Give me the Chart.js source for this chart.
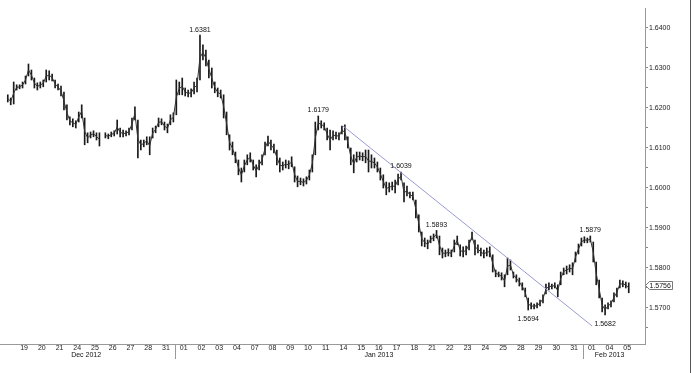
<!DOCTYPE html>
<html>
<head>
<meta charset="utf-8">
<script src="https://cdn.jsdelivr.net/npm/chart.js@4"></script>
<style>
    body { margin: 0; background: #fff; }
    canvas { display: block; }
</style>
</head>
<body>
<canvas id="myChart" width="700" height="373"></canvas>
<script>
    // trading days shown on the x axis (day index = position in this list)
    var dayLabels = ['18', '19', '20', '21', '24', '25', '26', '27', '28', '31',
                     '01', '02', '03', '04', '07', '08', '09', '10', '11', '14', '15', '16', '17', '18', '21', '22', '23', '24', '25', '28', '29', '30', '31',
                     '01', '04', '05'];
    var monthLabels = ['Dec 2012', 'Jan 2013', 'Feb 2013'];
    var monthFirstDay = [0, 10, 33];

    // 4 hour bars, 6 per day, first bar is the 4th slot of 18 Dec
    var barsPerDay = 6;
    var firstSlot = 3;

    var highs = [
        1.6232, 1.6224, 1.6264,
        1.6257, 1.6257, 1.6264, 1.6279, 1.6309, 1.6294,
        1.6274, 1.6262, 1.6264, 1.6269, 1.6294, 1.6292,
        1.6284, 1.6269, 1.6259, 1.6254, 1.6239, 1.6207,
        1.6177, 1.6172, 1.6167, 1.6189, 1.6207, 1.6174,
        1.6137, 1.6139, 1.6142, 1.6137, 1.6137, null,
        1.6137, 1.6134, 1.6139, 1.6142, 1.6169, 1.6149,
        1.6144, 1.6142, 1.6149, 1.6174, 1.6202, 1.6169,
        1.6119, 1.6119, 1.6127, 1.6127, 1.6149, 1.6154,
        1.6174, 1.6172, 1.6164, 1.6159, 1.6182, 1.6187,
        1.6269, 1.6264, 1.6274, 1.6249, 1.6244, 1.6247,
        1.6264, 1.6274, 1.6381, 1.6357, 1.6344, 1.6319,
        1.6299, 1.6264, 1.6249, 1.6244, 1.6232, 1.6189,
        1.6132, 1.6114, 1.6089, 1.6069, 1.6049, 1.6069,
        1.6082, 1.6087, 1.6069, 1.6057, 1.6069, 1.6082,
        1.6114, 1.6129, 1.6119, 1.6109, 1.6094, 1.6074,
        1.6064, 1.6069, 1.6067, 1.6077, 1.6052, 1.6029,
        1.6024, 1.6022, 1.6027, 1.6044, 1.6082, 1.6164,
        1.6179, 1.6167, 1.6162, 1.6149, 1.6144, 1.6142,
        1.6139, 1.6137, 1.6154, 1.6157, 1.6127, 1.6099,
        1.6082, 1.6089, 1.6089, 1.6087, 1.6094, 1.6094,
        1.6082, 1.6074, 1.6064, 1.6049, 1.6032, 1.6014,
        1.6012, 1.6014, 1.6019, 1.6034, 1.6039, 1.6012,
        1.6004, 1.5989, 1.5989, 1.5969, 1.5932, 1.5889,
        1.5874, 1.5869, 1.5879, 1.5884, 1.5893, 1.5879,
        1.5849, 1.5844, 1.5847, 1.5844, 1.5869, 1.5879,
        1.5857, 1.5852, 1.5854, 1.5869, 1.5889, 1.5869,
        1.5857, 1.5849, 1.5844, 1.5849, 1.5852, 1.5832,
        1.5794, 1.5789, 1.5787, 1.5782, 1.5824, 1.5819,
        1.5789, 1.5782, 1.5774, 1.5762, 1.5749, 1.5724,
        1.5712, 1.5709, 1.5712, 1.5719, 1.5732, 1.5759,
        1.5762, 1.5759, 1.5762, 1.5757, 1.5789, 1.5799,
        1.5804, 1.5807, 1.5812, 1.5839, 1.5859, 1.5874,
        1.5877, 1.5874, 1.5879, 1.5864, 1.5814, 1.5769,
        1.5724, 1.5707, 1.5712, 1.5717, 1.5737, 1.5749,
        1.5769, 1.5767, 1.5764, 1.5762
    ];
    var lows = [
        1.6214, 1.6207, 1.6209,
        1.6244, 1.6247, 1.6249, 1.6259, 1.6279, 1.6269,
        1.6249, 1.6244, 1.6249, 1.6252, 1.6264, 1.6269,
        1.6267, 1.6249, 1.6244, 1.6229, 1.6194, 1.6169,
        1.6157, 1.6152, 1.6149, 1.6164, 1.6174, 1.6107,
        1.6112, 1.6124, 1.6127, 1.6119, 1.6104, null,
        1.6124, 1.6122, 1.6127, 1.6129, 1.6134, 1.6127,
        1.6127, 1.6129, 1.6132, 1.6144, 1.6169, 1.6074,
        1.6094, 1.6102, 1.6107, 1.6082, 1.6124, 1.6137,
        1.6152, 1.6157, 1.6144, 1.6137, 1.6157, 1.6164,
        1.6182, 1.6232, 1.6232, 1.6229, 1.6227, 1.6227,
        1.6234, 1.6239, 1.6269, 1.6319, 1.6304, 1.6274,
        1.6249, 1.6237, 1.6227, 1.6224, 1.6174, 1.6132,
        1.6094, 1.6082, 1.6062, 1.6032, 1.6014, 1.6039,
        1.6057, 1.6064, 1.6044, 1.6027, 1.6044, 1.6057,
        1.6082, 1.6104, 1.6094, 1.6087, 1.6057, 1.6039,
        1.6044, 1.6049, 1.6047, 1.6052, 1.6014, 1.6002,
        1.6007, 1.6004, 1.6009, 1.6019, 1.6039, 1.6082,
        1.6144, 1.6149, 1.6144, 1.6119, 1.6094, 1.6119,
        1.6122, 1.6119, 1.6134, 1.6119, 1.6099, 1.6057,
        1.6037, 1.6064, 1.6069, 1.6067, 1.6062, 1.6039,
        1.6049, 1.6049, 1.6039, 1.6019, 1.5999, 1.5982,
        1.5989, 1.5994, 1.5987, 1.6007, 1.6019, 1.5964,
        1.5979, 1.5974, 1.5969, 1.5924, 1.5889, 1.5854,
        1.5852, 1.5847, 1.5862, 1.5867, 1.5874, 1.5832,
        1.5824, 1.5827, 1.5829, 1.5827, 1.5839, 1.5857,
        1.5829, 1.5827, 1.5832, 1.5844, 1.5869, 1.5832,
        1.5837, 1.5829, 1.5824, 1.5829, 1.5827, 1.5789,
        1.5777, 1.5777, 1.5769, 1.5752, 1.5782, 1.5794,
        1.5774, 1.5764, 1.5754, 1.5744, 1.5727, 1.5694,
        1.5697, 1.5697, 1.5699, 1.5704, 1.5712, 1.5734,
        1.5744, 1.5747, 1.5749, 1.5727, 1.5757, 1.5782,
        1.5784, 1.5789, 1.5782, 1.5814, 1.5834, 1.5854,
        1.5862, 1.5862, 1.5864, 1.5814, 1.5757, 1.5724,
        1.5689, 1.5682, 1.5697, 1.5702, 1.5714, 1.5727,
        1.5749, 1.5752, 1.5749, 1.5737
    ];
    var lastPrice = 1.5756;

    var priceTicks = [1.5700, 1.5800, 1.5900, 1.6000, 1.6100, 1.6200, 1.6300, 1.6400];
    var priceMin = 1.5609;
    var priceMax = 1.6449;

    // resistance line drawn on the chart
    var trendTimes = [18.98, 33.02];
    var trendValues = [1.6154, 1.5654];

    // swing highs / lows written on the chart
    var calloutTimes = [10.917, 17.583, 22.25, 24.25, 32.917, 29.417, 33.75];
    var calloutValues = [1.6381, 1.6179, 1.6039, 1.5893, 1.5879, 1.5694, 1.5682];
    var calloutBelow = [false, false, false, false, false, true, true];

    var FONT = "'Liberation Sans', Arial, sans-serif";
    Chart.defaults.font.family = FONT;
    Chart.defaults.font.size = 7;
    Chart.defaults.color = '#222';

    // high-low bars, plus a thin path through their middles so the series reads as one line
    var bars = [];
    var path = [];
    for (var i = 0; i < highs.length; i++) {
        var slot = firstSlot + i;
        var t = (slot - (barsPerDay - 1) / 2) / barsPerDay;
        if (highs[i] === null) {
            path.push({x: t, y: null});
            continue;
        }
        bars.push({x: t, y: [lows[i], highs[i]]});
        path.push({x: t, y: (lows[i] + highs[i]) / 2});
    }

    var trend = [];
    for (var j = 0; j < trendTimes.length; j++) {
        trend.push({x: trendTimes[j], y: trendValues[j]});
    }

    // texts and marks that chart.js does not draw by itself
    var extras = {
        id: 'extras',
        afterDraw: function (chart) {
            var ctx = chart.ctx;
            var xs = chart.scales.x;
            var ys = chart.scales.y;
            var area = chart.chartArea;
            ctx.save();

            // peak labels
            ctx.fillStyle = '#111';
            ctx.font = '7px ' + FONT;
            ctx.textAlign = 'center';
            for (var k = 0; k < calloutValues.length; k++) {
                var px = xs.getPixelForValue(calloutTimes[k]);
                var py = ys.getPixelForValue(calloutValues[k]);
                if (calloutBelow[k]) {
                    ctx.textBaseline = 'top';
                    ctx.fillText(calloutValues[k].toFixed(4), px, py + 6);
                } else {
                    ctx.textBaseline = 'bottom';
                    ctx.fillText(calloutValues[k].toFixed(4), px, py - 2);
                }
            }

            // month separators and month names
            ctx.strokeStyle = '#999';
            ctx.lineWidth = 1;
            for (var m = 0; m < monthLabels.length; m++) {
                var first = monthFirstDay[m];
                var last = (m + 1 < monthFirstDay.length ? monthFirstDay[m + 1] : dayLabels.length) - 1;
                if (m > 0) {
                    var sx = Math.round(xs.getPixelForValue(first - 0.5)) + 0.5;
                    ctx.beginPath();
                    ctx.moveTo(sx, area.bottom);
                    ctx.lineTo(sx, area.bottom + 15);
                    ctx.stroke();
                }
                ctx.textBaseline = 'middle';
                ctx.fillText(monthLabels[m], xs.getPixelForValue((first + last) / 2), area.bottom + 11);
            }

            // last price tag on the axis
            var ty = Math.round(ys.getPixelForValue(lastPrice)) + 0.5;
            var tx = area.right + 0.5;
            ctx.beginPath();
            ctx.moveTo(tx, ty);
            ctx.lineTo(tx + 4, ty - 4);
            ctx.lineTo(tx + 27, ty - 4);
            ctx.lineTo(tx + 27, ty + 4);
            ctx.lineTo(tx + 4, ty + 4);
            ctx.closePath();
            ctx.fillStyle = '#fff';
            ctx.fill();
            ctx.strokeStyle = '#777';
            ctx.stroke();
            ctx.fillStyle = '#111';
            ctx.textAlign = 'left';
            ctx.textBaseline = 'middle';
            ctx.fillText(lastPrice.toFixed(4), tx + 4, ty + 0.5);

            // frame line on the right
            ctx.strokeStyle = '#555';
            ctx.beginPath();
            ctx.moveTo(690.5, 0);
            ctx.lineTo(690.5, chart.height);
            ctx.stroke();

            ctx.restore();
        }
    };

    const ctx = document.getElementById('myChart').getContext('2d');
    const myChart = new Chart(ctx, {
        type: 'bar',
        data: {
            datasets: [{
                type: 'line',
                label: 'Trend',
                data: trend,
                borderColor: '#9a9ad2',
                borderWidth: 1,
                pointRadius: 0,
                fill: false,
                order: 0
            }, {
                type: 'line',
                label: 'Mid',
                data: path,
                borderColor: '#333',
                borderWidth: 1,
                pointRadius: 0,
                tension: 0,
                spanGaps: false,
                fill: false,
                order: 1
            }, {
                label: 'GBP/USD',
                data: bars,
                backgroundColor: '#1a1a1a',
                borderWidth: 0,
                barThickness: 1,
                order: 2
            }]
        },
        options: {
            responsive: false,
            animation: false,
            devicePixelRatio: 1,
            layout: {
                padding: {top: 8, left: 0, right: 0, bottom: 0}
            },
            plugins: {
                legend: {display: false},
                tooltip: {enabled: false}
            },
            scales: {
                x: {
                    type: 'linear',
                    min: -0.355,
                    max: 36.0,
                    offset: false,
                    grid: {drawOnChartArea: false, drawTicks: false, offset: false},
                    border: {color: '#999'},
                    ticks: {
                        autoSkip: false,
                        maxRotation: 0,
                        padding: 0,
                        callback: function (value) { return dayLabels[value]; }
                    },
                    afterBuildTicks: function (scale) {
                        var t = [];
                        for (var d = 1; d < dayLabels.length; d++) t.push({value: d});
                        scale.ticks = t;
                    },
                    afterFit: function (scale) { scale.height = 29; }
                },
                y: {
                    position: 'right',
                    min: priceMin,
                    max: priceMax,
                    grid: {drawOnChartArea: false, drawTicks: true, tickLength: 3, color: '#888'},
                    border: {color: '#999'},
                    ticks: {
                        autoSkip: false,
                        padding: 1,
                        callback: function (value) {
                            for (var p = 0; p < priceTicks.length; p++) {
                                if (Math.abs(priceTicks[p] - value) < 1e-6) return priceTicks[p].toFixed(4);
                            }
                            return '';
                        }
                    },
                    afterBuildTicks: function (scale) {
                        var t = [];
                        t.push({value: priceTicks[0] - 0.005});
                        priceTicks.forEach(function (v) {
                            t.push({value: v});
                            if (v + 0.005 < priceMax) t.push({value: v + 0.005});
                        });
                        scale.ticks = t.filter(function (tk) { return tk.value >= priceMin && tk.value <= priceMax; });
                    },
                    afterFit: function (scale) { scale.width = 55; }
                }
            }
        },
        plugins: [extras]
    });
</script>
</body>
</html>
